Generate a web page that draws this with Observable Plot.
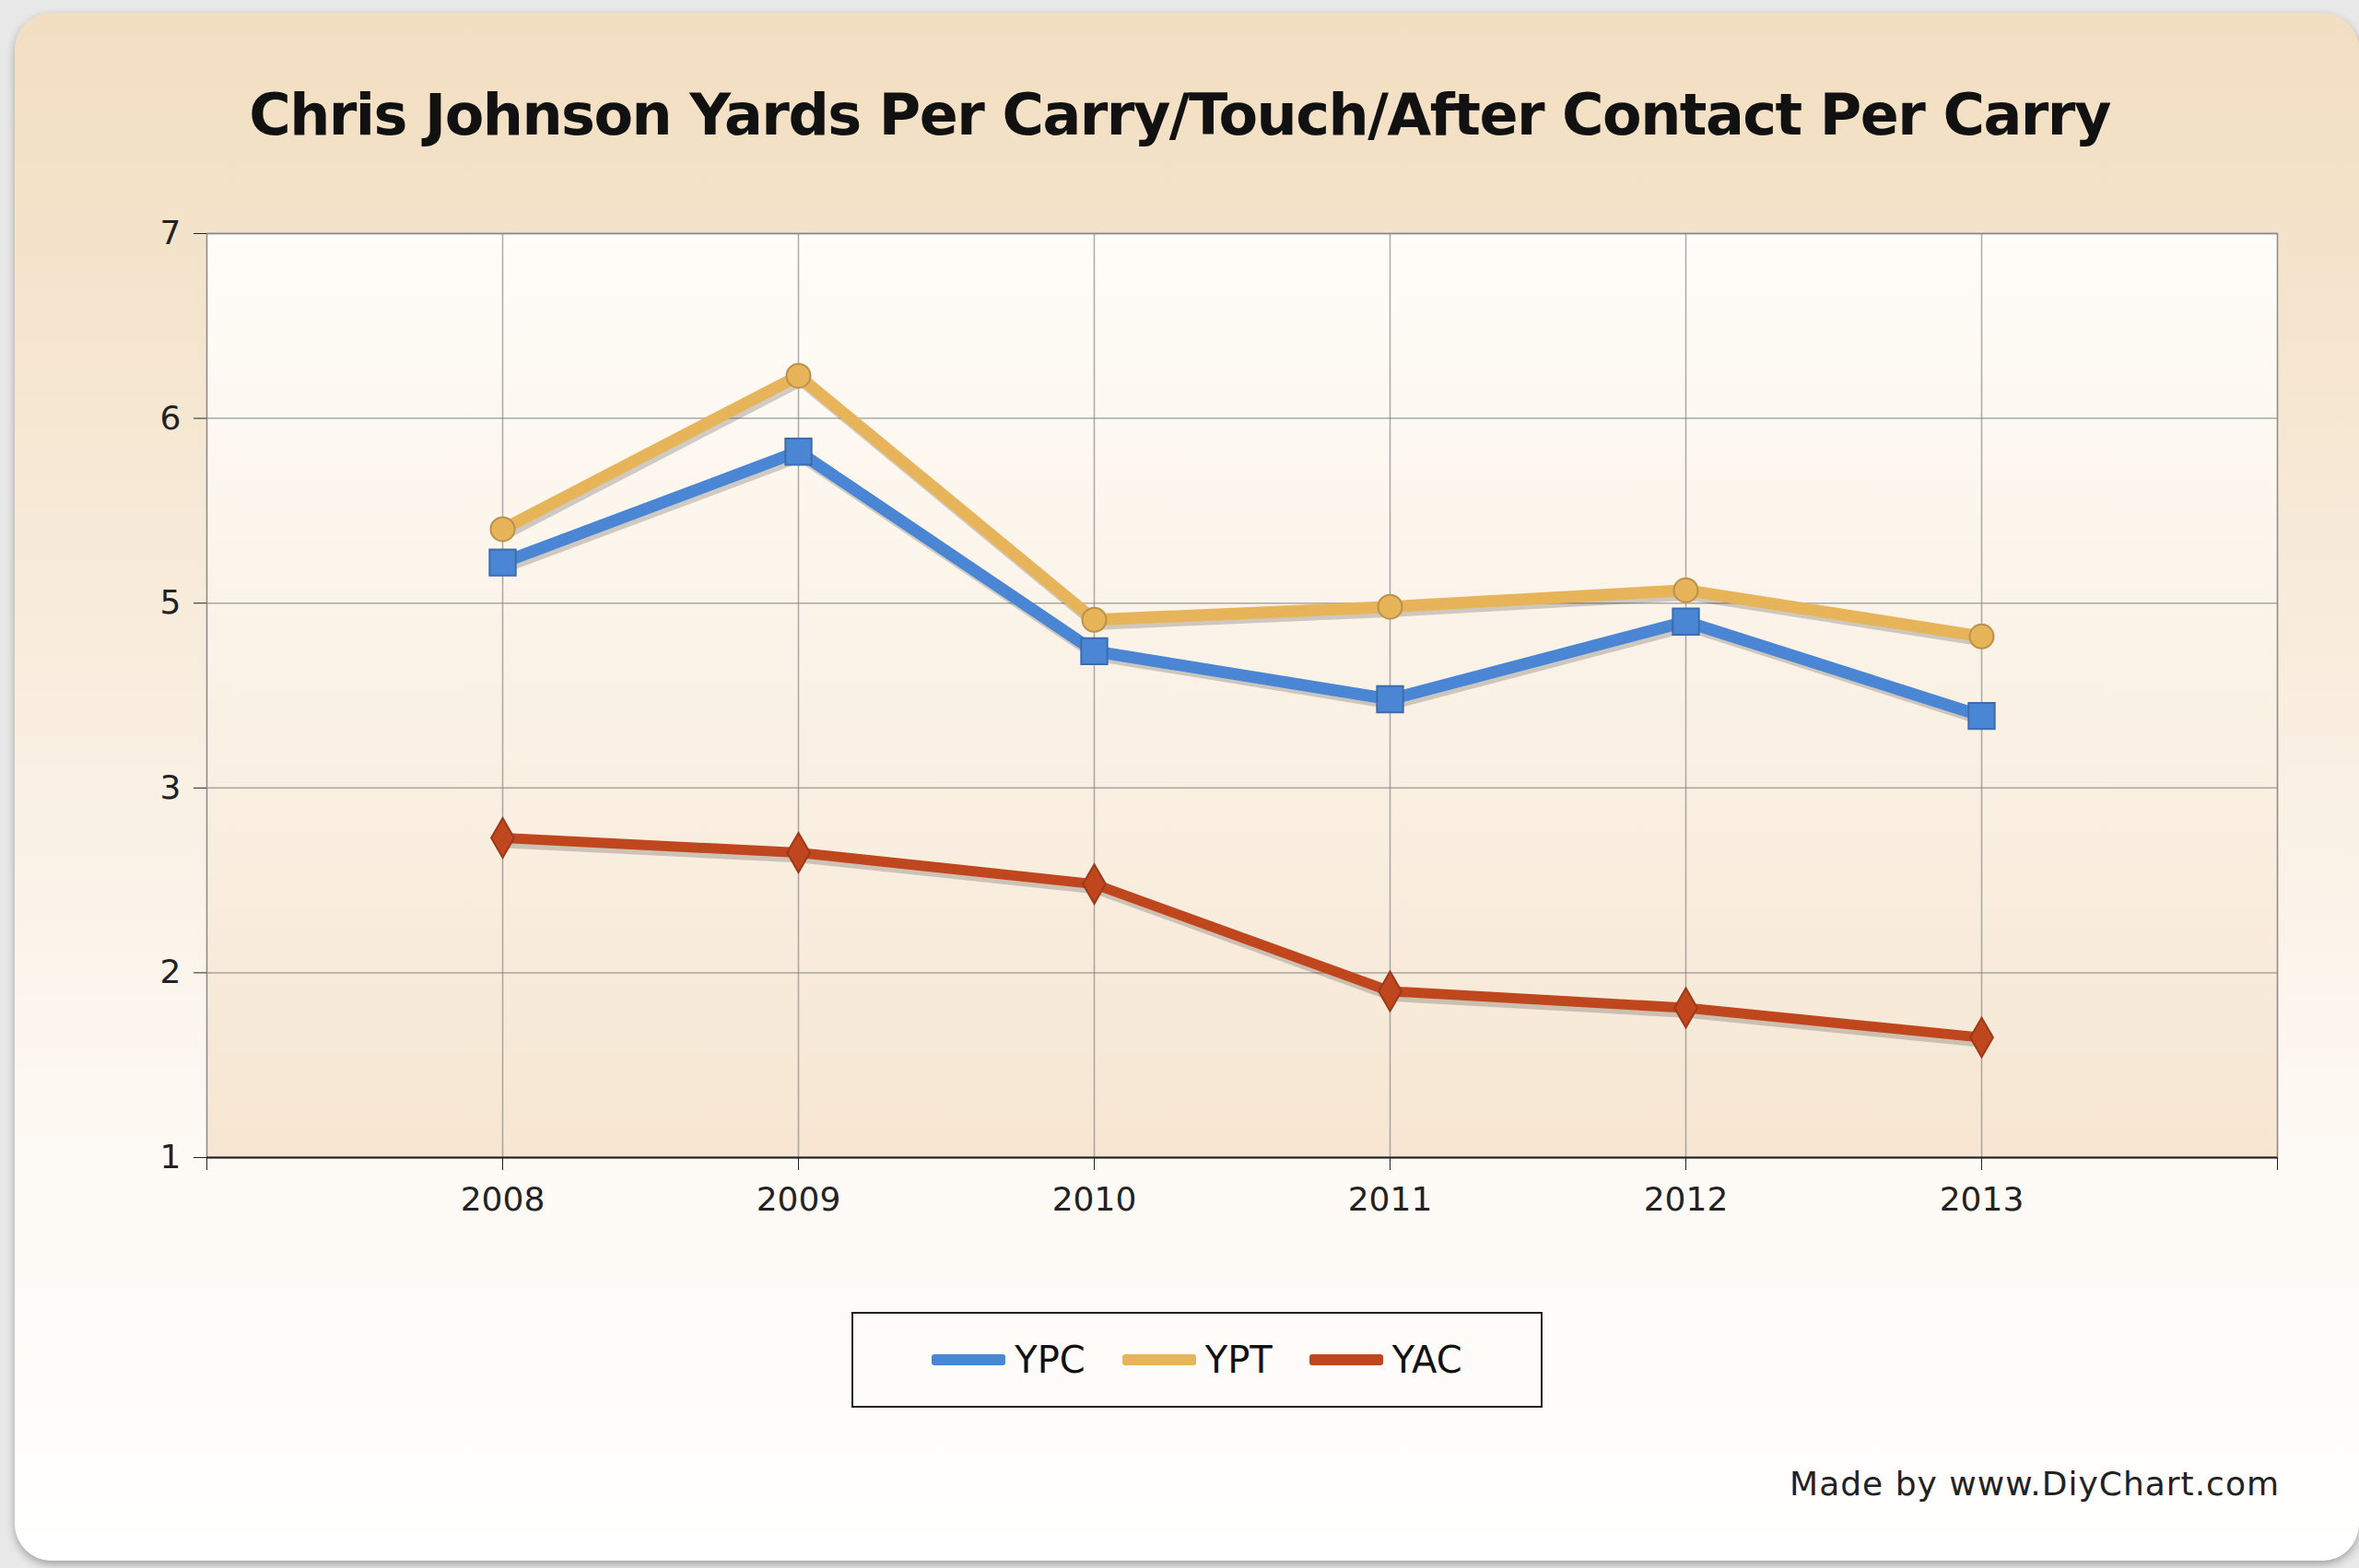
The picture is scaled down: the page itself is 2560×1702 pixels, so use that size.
<!DOCTYPE html>
<html><head><meta charset="utf-8">
<script src="https://cdn.jsdelivr.net/npm/d3@7"></script>
<script src="https://cdn.jsdelivr.net/npm/@observablehq/plot@0.6"></script>
<style>
body{margin:0;background:#e8e8e8;width:2560px;height:1702px;overflow:hidden;font-family:"DejaVu Sans",sans-serif}
#card{position:absolute;left:16px;top:14px;width:2544px;height:1680px;border-radius:40px;
background:linear-gradient(#f2dec1 0%,#f8ecdc 40%,#fdf8f2 70%,#ffffff 100%);box-shadow:0 4px 10px rgba(0,0,0,0.3)}
#title{position:absolute;left:0;width:2560px;top:88px;text-align:center;font-size:62px;font-weight:bold;color:#111;letter-spacing:-1.5px}
#chart{position:absolute;left:0;top:0}
#legend{position:absolute;left:924px;top:1424px;width:750px;height:104px;border:2px solid #222;box-sizing:border-box;display:flex;align-items:center;justify-content:center;gap:40px;font-size:40px;color:#111}
.li{display:flex;align-items:center;gap:10px}
.sw{width:80px;height:12px;border-radius:3px}
#foot{position:absolute;right:86px;top:1590px;font-size:36px;color:#222;font-family:"DejaVu Sans",sans-serif;letter-spacing:1px}
</style></head><body>
<div id="card"></div>
<div id="chart"></div>
<div id="title">Chris Johnson Yards Per Carry/Touch/After Contact Per Carry</div>
<div id="legend"></div>
<div id="foot">Made by www.DiyChart.com</div>
<script>
const years=[2008,2009,2010,2011,2012,2013];
const ypc=[4.22,4.82,3.74,3.48,3.90,3.39];
const ypt=[4.40,5.23,3.91,3.98,4.07,3.82];
const yac=[2.73,2.65,2.48,1.90,1.81,1.65];
const yTicks=[1,2,3,4,5,6];
const yTickLabels=["1","2","3","5","6","7"];
const seriesNames=["YPC","YPT","YAC"];
const colors=["#4a86d4","#e8b45a","#c0461e"];
const symbols=["square","circle","diamond"];
const vals=[ypc,ypt,yac];
const data=[];
seriesNames.forEach((s,i)=>years.forEach((y,j)=>data.push({series:s,year:y,v:vals[i][j]})));
const marks=[
  Plot.rectY([0],{x1:2007,x2:2014,y1:1,y2:6,fill:"url(#bg)"}),
  Plot.gridX(years,{stroke:"#888",strokeOpacity:0.7,strokeWidth:1.5}),
  Plot.gridY(yTicks,{stroke:"#888",strokeOpacity:0.7,strokeWidth:1.5}),
  Plot.frame({stroke:"#888",strokeWidth:1.5}),
  Plot.ruleY([1],{stroke:"#222",strokeWidth:2}),
  Plot.axisY({ticks:yTicks,tickFormat:(d,i)=>yTickLabels[yTicks.indexOf(d)],fontSize:36,tickSize:14,tickPadding:14,stroke:"#222"}),
  Plot.axisX({ticks:[2007,...years,2014],tickFormat:d=>years.includes(d)?String(d):"",fontSize:36,tickSize:14,tickPadding:18,stroke:"#222"})
];
seriesNames.forEach((s,i)=>{
  const d=data.filter(r=>r.series===s);
  marks.push(Plot.line(d,{x:"year",y:"v",stroke:"#000",strokeOpacity:0.18,strokeWidth:14,dx:3,dy:4}));
  marks.push(Plot.line(d,{x:"year",y:"v",stroke:colors[i],strokeWidth:i===2?11:13}));
  marks.push(Plot.dot(d,{x:"year",y:"v",symbol:symbols[i],fill:colors[i],stroke:d3.color(colors[i]).darker(0.6).toString(),strokeWidth:2,r:i===0?16:13}));
});
const svg=Plot.plot({width:2560,height:1400,marginLeft:224,marginRight:89,marginTop:253,marginBottom:144,
  x:{domain:[2007,2014],label:null},y:{domain:[1,6],label:null},
  style:{background:"transparent",color:"#222",fontFamily:"DejaVu Sans"},marks});
const defs=d3.select(svg).insert("defs",":first-child");
const g=defs.append("linearGradient").attr("id","bg").attr("x1",0).attr("x2",0).attr("y1",0).attr("y2",1);
g.append("stop").attr("offset","0%").attr("stop-color","#fffdf9");
g.append("stop").attr("offset","100%").attr("stop-color","#f6e6d2");
document.getElementById("chart").appendChild(svg);
const lg=document.getElementById("legend");
seriesNames.forEach((s,i)=>{lg.insertAdjacentHTML("beforeend",`<div class="li"><div class="sw" style="background:${colors[i]}"></div><span>${s}</span></div>`)});
</script>
</body></html>
